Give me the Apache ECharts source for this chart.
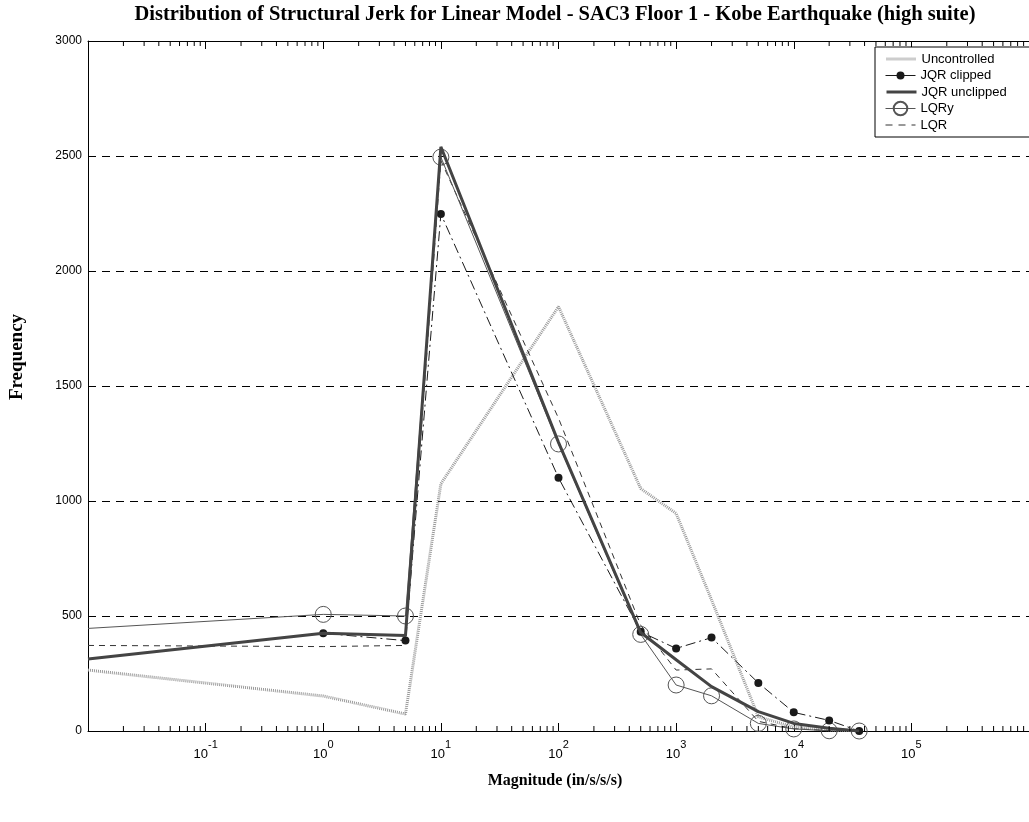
<!DOCTYPE html>
<html><head><meta charset="utf-8">
<script src="https://cdn.jsdelivr.net/npm/echarts@6/dist/echarts.min.js"></script>
<style>html,body{margin:0;padding:0;background:#fff;overflow:hidden}#c{width:1029px;height:822px}</style>
</head><body><div id="c"></div>
<script>
// Data
const magnitudes   = [0.01, 1, 5, 10, 100, 500, 1000, 2000, 5000, 10000, 20000, 36000];
const uncontrolled = [265, 152, 74, 1075, 1845, 1054, 946, 570, 62, 17, 5, 0];
const jqrClipped   = [313, 425, 393, 2248, 1101, 431, 359, 406, 209, 81, 46, 0];
const jqrUnclipped = [313, 425, 415, 2540, 1255, 428, 310, 193, 84, 33, 12, 0];
const lqry         = [446, 507, 500, 2495, 1248, 420, 200, 153, 33, 9, 1, 0];
const lqr          = [372, 367, 372, 2480, 1360, 460, 265, 270, 42, 10, 2, 0];
const seriesNames  = ['Uncontrolled', 'JQR clipped', 'JQR unclipped', 'LQRy', 'LQR'];
const yTicks       = [0, 500, 1000, 1500, 2000, 2500, 3000];
const titleText    = 'Distribution of Structural Jerk for Linear Model - SAC3 Floor 1 - Kobe Earthquake (high suite)';
const xLabel       = 'Magnitude (in/s/s/s)';
const yLabel       = 'Frequency';

const X_MIN = 0.01, X_MAX = 1e6;

function pairs(ys, hideFirstSymbol) {
  return magnitudes.map((m, i) => {
    const d = { value: [m, ys[i]] };
    if (hideFirstSymbol && i === 0) d.symbol = 'none';
    return d;
  });
}
const minorTicks = [];
for (let k = -2; k < 6; k++) for (let j = 2; j < 10; j++) minorTicks.push([j * Math.pow(10, k), 0]);

const serif = '"Liberation Serif", "Times New Roman", serif';
const sans = '"Liberation Sans", Arial, sans-serif';

const xAxisBase = {
  type: 'log', logBase: 10, min: X_MIN, max: X_MAX, splitNumber: 8, gridIndex: 0,
  axisLine: { show: true, lineStyle: { color: '#000', width: 1 } },
  axisTick: { show: true, inside: true, length: 8, lineStyle: { color: '#000', width: 1 } },
  splitLine: { show: false }, minorTick: { show: false }
};

// legend layout: one legend per entry so rows and symbol sizes follow the reference
const legendRowCenters = [59, 75.5, 92, 108.5, 125];
const hidden = { color: 'rgba(0,0,0,0)', borderColor: 'rgba(0,0,0,0)', borderWidth: 0 };
const legendSpec = [
  { name: 'Uncontrolled', h: 10, itemStyle: hidden, line: { width: 3, type: [1, 1] } },
  { name: 'JQR clipped', h: 10, line: { width: 1, type: 'solid' } },
  { name: 'JQR unclipped', h: 10, itemStyle: hidden, line: { width: 3, type: 'solid' } },
  { name: 'LQRy', h: 17, line: { width: 1, type: 'solid' } },
  { name: 'LQR', h: 10, itemStyle: hidden, line: { width: 1, type: [7, 6] } }
];
const legends = legendSpec.map((s, i) => ({
  data: [s.itemStyle ? { name: s.name, itemStyle: s.itemStyle } : { name: s.name }],
  orient: 'vertical', left: 875, top: legendRowCenters[i] - 9,
  itemWidth: 30, itemHeight: s.h, padding: [0, 0, 0, 10],
  backgroundColor: 'transparent', borderWidth: 0, z: 20, selectedMode: false,
  lineStyle: s.line,
  textStyle: { fontFamily: sans, fontSize: 13, color: '#000', lineHeight: 18 }
}));

const chart = echarts.init(document.getElementById('c'), null, { renderer: 'canvas' });
chart.setOption({
  animation: false,
  backgroundColor: '#fff',
  grid: { left: 88, top: 41, right: -7, bottom: 91 },
  xAxis: [
    Object.assign({}, xAxisBase, {
      position: 'bottom',
      axisLabel: {
        show: true, showMinLabel: false, showMaxLabel: false, margin: 8,
        formatter: v => '{b|10}{s|' + Math.round(Math.log10(v)) + '}',
        rich: {
          b: { fontFamily: sans, fontSize: 13, color: '#000', lineHeight: 22, verticalAlign: 'bottom' },
          s: { fontFamily: sans, fontSize: 11, color: '#000', lineHeight: 22, verticalAlign: 'top' }
        }
      }
    }),
    Object.assign({}, xAxisBase, { position: 'top', axisLabel: { show: false } })
  ],
  yAxis: [{
    type: 'value', min: yTicks[0], max: yTicks[yTicks.length - 1], interval: 500,
    axisLine: { show: true, lineStyle: { color: '#000', width: 1 } },
    axisTick: { show: true, inside: true, length: 8, lineStyle: { color: '#000' } },
    axisLabel: { color: '#000', fontFamily: sans, fontSize: 12, margin: 6, formatter: v => String(v) },
    splitLine: { show: true, lineStyle: { color: '#000', width: 1, type: [8, 6] } }
  }],
  legend: legends,
  graphic: [
    { type: 'rect', z: 15, shape: { x: 875, y: 47, width: 200, height: 90 }, style: { fill: '#fff', stroke: '#000', lineWidth: 1 } },
    { type: 'text', x: 555, y: 15, style: { text: titleText, font: 'bold 20.5px ' + serif, fill: '#000', align: 'center', verticalAlign: 'middle' } },
    { type: 'text', x: 555, y: 781, style: { text: xLabel, font: 'bold 16px ' + serif, fill: '#000', align: 'center', verticalAlign: 'middle' } },
    { type: 'text', x: 17, y: 357, rotation: Math.PI / 2, style: { text: yLabel, font: 'bold 19px ' + serif, fill: '#000', align: 'center', verticalAlign: 'middle' } }
  ],
  series: [
    { name: 'Uncontrolled', type: 'line', data: pairs(uncontrolled, false), symbol: 'none',
      lineStyle: { color: '#9a9a9a', width: 3, type: [1, 1] }, itemStyle: { color: '#9a9a9a' }, z: 2 },
    { name: 'LQR', type: 'line', data: pairs(lqr, false), symbol: 'none',
      lineStyle: { color: '#333', width: 1, type: [6, 5] }, itemStyle: { color: '#333' }, z: 3 },
    { name: 'LQRy', type: 'line', data: pairs(lqry, true), symbol: 'circle', symbolSize: 16,
      lineStyle: { color: '#555', width: 1 }, itemStyle: { color: 'rgba(0,0,0,0)', borderColor: '#555', borderWidth: 1 }, z: 4 },
    { name: 'JQR clipped', type: 'line', data: pairs(jqrClipped, true), symbol: 'circle', symbolSize: 8,
      lineStyle: { color: '#1a1a1a', width: 1, type: [10, 4, 2, 4] }, itemStyle: { color: '#1a1a1a' }, z: 5 },
    { name: 'JQR unclipped', type: 'line', data: pairs(jqrUnclipped, false), symbol: 'none',
      lineStyle: { color: '#444', width: 3 }, itemStyle: { color: '#444' }, z: 6 },
    { name: 'minorTicks', type: 'custom', data: minorTicks, silent: true, clip: false, z: 10,
      encode: { x: 0, y: 1 },
      renderItem: (params, api) => {
        const v = api.value(0);
        const b = api.coord([v, yTicks[0]]);
        const t = api.coord([v, yTicks[yTicks.length - 1]]);
        return { type: 'group', children: [
          { type: 'line', shape: { x1: b[0], y1: b[1], x2: b[0], y2: b[1] - 5 }, style: { stroke: '#000', lineWidth: 1 } },
          { type: 'line', shape: { x1: t[0], y1: t[1], x2: t[0], y2: t[1] + 5 }, style: { stroke: '#000', lineWidth: 1 } }
        ] };
      }
    }
  ]
});
</script>
</body></html>
